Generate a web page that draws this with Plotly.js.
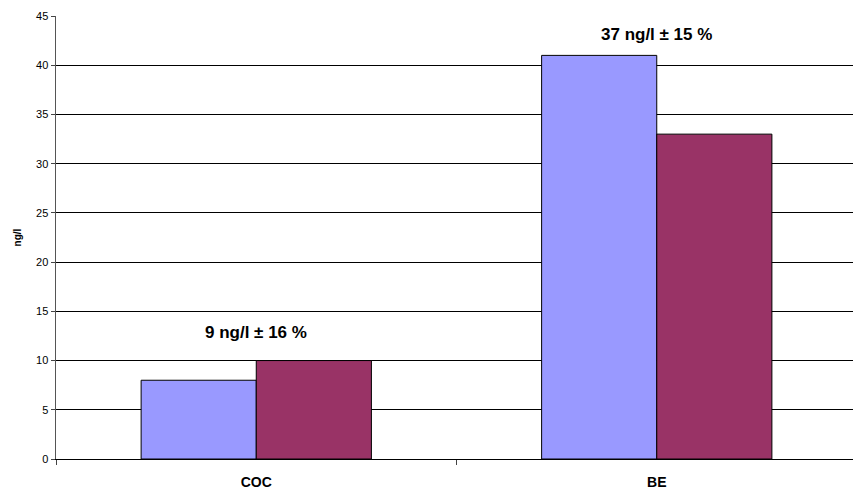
<!DOCTYPE html>
<html>
<head>
<meta charset="utf-8">
<script src="https://cdn.plot.ly/plotly-3.0.1.min.js"></script>
<style>html,body{margin:0;padding:0;background:#fff;}#chart{width:854px;height:491px;}</style>
</head>
<body>
<div id="chart"></div>
<script>
const categories = ["COC", "BE"];
const seriesA = [8, 41];
const seriesB = [10, 33];
const labels = ["9 ng/l ± 16 %", "37 ng/l ± 15 %"];
const labelY = [12.9, 43.1];
const yTicks = [0, 5, 10, 15, 20, 25, 30, 35, 40, 45];

const traces = [
  {type: "bar", x: categories, y: seriesA, marker: {color: "#9999FF", line: {color: "#000", width: 1}}, showlegend: false},
  {type: "bar", x: categories, y: seriesB, marker: {color: "#993366", line: {color: "#000", width: 1}}, showlegend: false}
];

const layout = {
  width: 854, height: 491,
  margin: {l: 56, r: 1, t: 16, b: 32},
  paper_bgcolor: "#fff", plot_bgcolor: "#fff",
  barmode: "group", bargap: 0.425, bargroupgap: 0,
  font: {family: "Liberation Sans, Arial, sans-serif", color: "#000"},
  xaxis: {
    type: "category", range: [-0.5, 1.49], tickson: "boundaries",
    ticks: "outside", ticklen: 5, tickcolor: "#444",
    showline: true, linecolor: "#000", linewidth: 1,
    tickfont: {size: 14, family: "Liberation Sans, Arial, sans-serif", weight: "bold"},
    ticklabelstandoff: 10, automargin: false,
    showgrid: false, zeroline: false
  },
  yaxis: {
    range: [0, 45], tickvals: yTicks, ticktext: yTicks.map(String),
    ticks: "outside", ticklen: 4, tickcolor: "#444",
    showline: true, linecolor: "#555", linewidth: 1.5,
    showgrid: true, gridcolor: "#000", gridwidth: 1,
    zeroline: false, automargin: false,
    tickfont: {size: 11},
    title: {text: "ng/l", font: {size: 10, weight: "bold"}, standoff: 12}
  },
  annotations: categories.map((c, i) => ({
    x: c, y: labelY[i], xref: "x", yref: "y", text: "<b>" + labels[i] + "</b>",
    showarrow: false, font: {size: 17, color: "#000"}
  }))
};

Plotly.newPlot("chart", traces, layout, {displayModeBar: false, staticPlot: true});
</script>
</body>
</html>
